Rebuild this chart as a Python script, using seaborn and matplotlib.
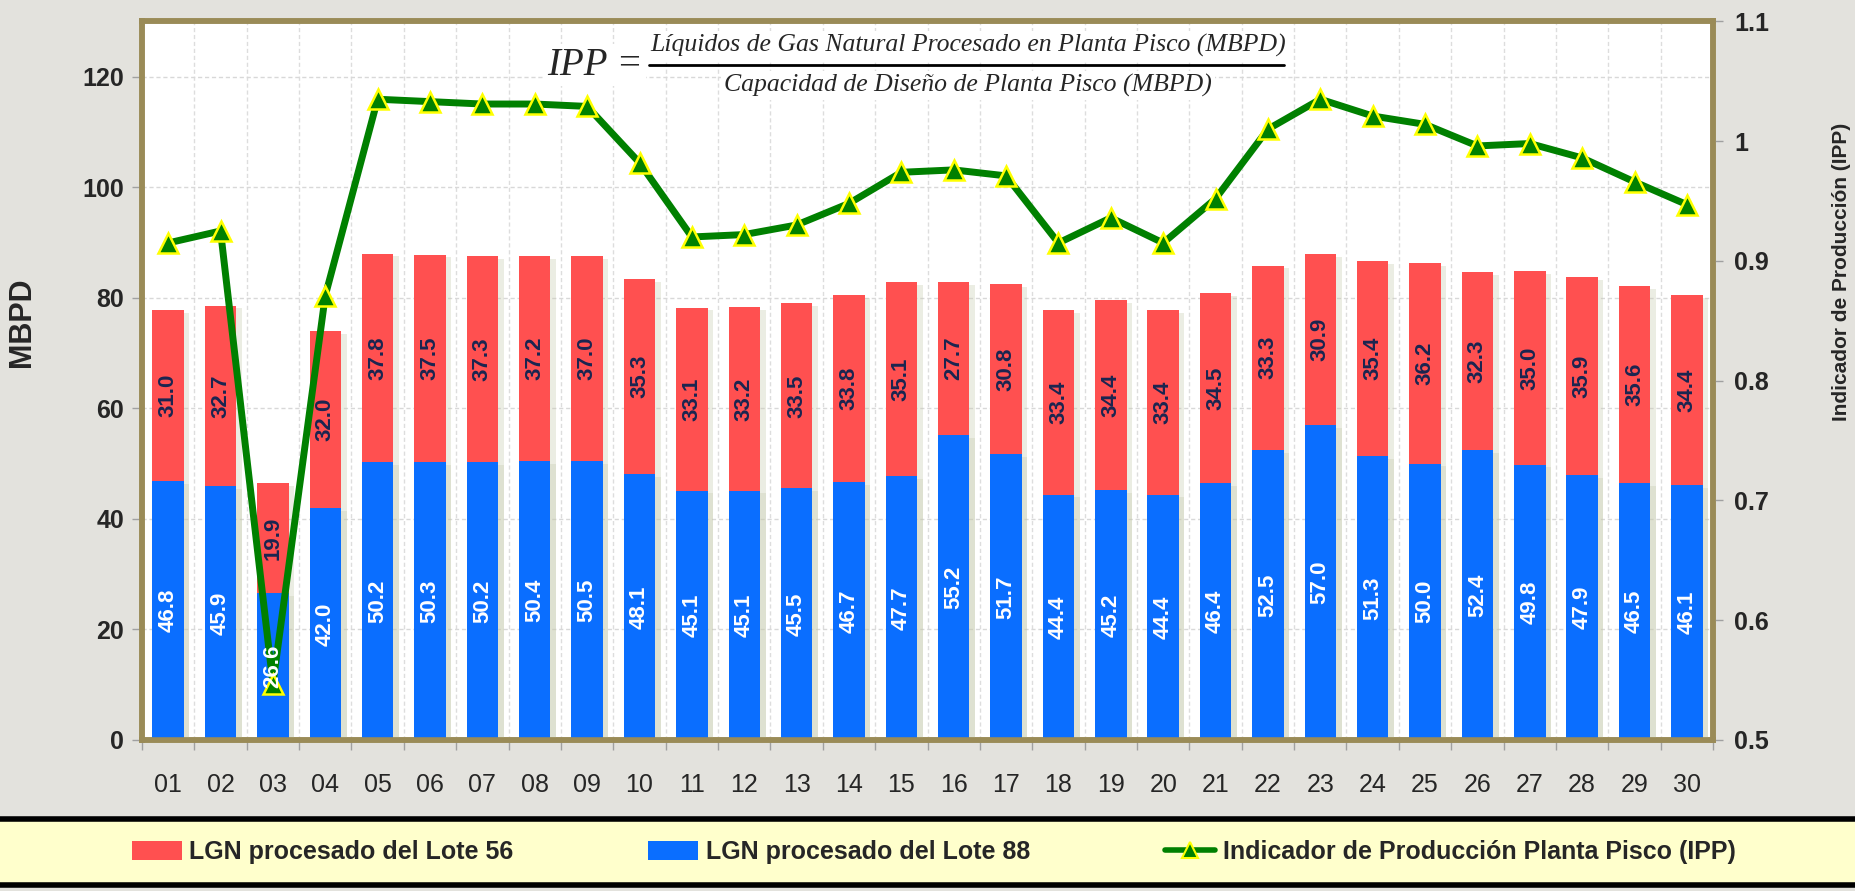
import numpy as np
import pandas as pd
import matplotlib
matplotlib.use("Agg")
import matplotlib.pyplot as plt
import matplotlib.patheffects as pe
from matplotlib.patches import Patch, Rectangle
from matplotlib.lines import Line2D
from matplotlib.ticker import FixedLocator, FuncFormatter
import seaborn as sns

# ---------------- data ----------------
days = ["01", "02", "03", "04", "05", "06", "07", "08", "09", "10",
        "11", "12", "13", "14", "15", "16", "17", "18", "19", "20",
        "21", "22", "23", "24", "25", "26", "27", "28", "29", "30"]
lote88 = [46.8, 45.9, 26.6, 42.0, 50.2, 50.3, 50.2, 50.4, 50.5, 48.1,
          45.1, 45.1, 45.5, 46.7, 47.7, 55.2, 51.7, 44.4, 45.2, 44.4,
          46.4, 52.5, 57.0, 51.3, 50.0, 52.4, 49.8, 47.9, 46.5, 46.1]
lote56 = [31.0, 32.7, 19.9, 32.0, 37.8, 37.5, 37.3, 37.2, 37.0, 35.3,
          33.1, 33.2, 33.5, 33.8, 35.1, 27.7, 30.8, 33.4, 34.4, 33.4,
          34.5, 33.3, 30.9, 35.4, 36.2, 32.3, 35.0, 35.9, 35.6, 34.4]
ipp = [0.915, 0.925, 0.547, 0.871, 1.035, 1.033, 1.031, 1.031, 1.029, 0.982,
       0.920, 0.922, 0.930, 0.948, 0.974, 0.976, 0.971, 0.915, 0.936, 0.915,
       0.952, 1.010, 1.035, 1.021, 1.014, 0.996, 0.998, 0.986, 0.966, 0.947]
left_ticks = [0, 20, 40, 60, 80, 100, 120]
right_ticks = [0.5, 0.6, 0.7, 0.8, 0.9, 1.0, 1.1]

name56 = "LGN procesado del Lote 56"
name88 = "LGN procesado del Lote 88"
name_ipp = "Indicador de Producción Planta Pisco (IPP)"

df = pd.DataFrame({"dia": days, "l88": lote88, "l56": lote56, "ipp": ipp})
df["total"] = df["l88"] + df["l56"]

# ---------------- style ----------------
sns.set_theme(style="white")
plt.rcParams["font.family"] = ["Liberation Sans", "DejaVu Sans"]

RED = "#FF5050"
BLUE = "#0A6EFF"
GREEN = "#008000"
BORDER = "#9A8B57"
BG = "#E3E2DD"

fig = plt.figure(figsize=(18.56, 8.91), dpi=100, facecolor=BG)
ax = fig.add_axes([0.0765, 0.1695, 0.8465, 0.8065])
ax.set_facecolor("white")

shadow = [pe.SimplePatchShadow(offset=(4, -2), shadow_rgbFace="#C8CCB0", alpha=0.35), pe.Normal()]

sns.barplot(data=df, x="dia", y="total", color=RED, saturation=1, width=0.6,
            ax=ax, zorder=3, linewidth=0)
sns.barplot(data=df, x="dia", y="l88", color=BLUE, saturation=1, width=0.6,
            ax=ax, zorder=4, linewidth=0)
for p in ax.patches:
    p.set_path_effects(shadow)

ax.set_xlim(-0.5, len(days) - 0.5)
ax.set_ylim(0, 130)
ax.yaxis.set_major_locator(FixedLocator(left_ticks))
ax.set_xlabel("")
ax.set_ylabel("MBPD", fontsize=22, fontweight="bold")
ax.yaxis.set_label_coords(-0.0668, 0.581)

# ticks & grid
ax.tick_params(axis="x", which="major", length=0, labelsize=18, pad=24)
ax.set_xticks(np.arange(-0.5, len(days), 1.0), minor=True)
ax.tick_params(axis="x", which="minor", length=7, color="#A0A0A0", width=1, bottom=True)
ax.tick_params(axis="y", length=7, color="#A0A0A0", width=1, labelsize=18, left=True, pad=6)
for lbl in ax.get_yticklabels():
    lbl.set_fontweight("bold")
ax.grid(axis="y", which="major", color="#D8D8D8", linestyle=(0, (3, 2)), linewidth=1, zorder=0)
ax.grid(axis="x", which="minor", color="#DDDDDD", linestyle=(0, (3, 2)), linewidth=1, zorder=0)
ax.set_axisbelow(True)
for s in ax.spines.values():
    s.set_color(BORDER)
    s.set_linewidth(4)

# secondary axis
ax2 = ax.twinx()
ax2.patch.set_visible(False)
xpos = np.arange(len(days))
sns.lineplot(x=xpos, y=df["ipp"], ax=ax2, color=GREEN, linewidth=5, sort=False,
             marker="^", markersize=14, markerfacecolor=GREEN, markeredgecolor="#FFFF00",
             markeredgewidth=1.8, zorder=5)
ax2.set_ylim(0.5, 1.1)
ax2.yaxis.set_major_locator(FixedLocator(right_ticks))
ax2.yaxis.set_major_formatter(FuncFormatter(lambda v, p: f"{v:g}"))
ax2.tick_params(axis="y", length=7, color="#A0A0A0", width=1, labelsize=18, right=True, pad=8)
for lbl in ax2.get_yticklabels():
    lbl.set_fontweight("bold")
ax2.set_ylabel("Indicador de Producción (IPP)", fontsize=15, fontweight="bold")
ax2.yaxis.set_label_coords(1.0757, 0.651)
ax2.set_xlabel("")
for s in ax2.spines.values():
    s.set_color(BORDER)
    s.set_linewidth(4)
ax2.set_xlim(-0.5, len(days) - 0.5)

# data labels
for i, (b, r) in enumerate(zip(lote88, lote56)):
    ax2.text(i, b / 2, f"{b:.1f}", transform=ax.transData, rotation=90,
             ha="center", va="center", color="white", fontsize=16, fontweight="bold", zorder=7)
    ax2.text(i, b + r / 2, f"{r:.1f}", transform=ax.transData, rotation=90,
             ha="center", va="center", color="#1A2550", fontsize=16, fontweight="bold", zorder=7)

# formula
fbox = dict(facecolor="white", edgecolor="none", pad=2)
serif = ["Liberation Serif", "DejaVu Serif"]
ax2.text(0.3207, 0.927, "IPP =", transform=fig.transFigure, ha="center", va="center",
         fontsize=28, style="italic", family=serif, zorder=8, bbox=fbox)
ax2.text(0.5215, 0.949, "Líquidos de Gas Natural Procesado en Planta Pisco (MBPD)",
         transform=fig.transFigure, ha="center", va="center", fontsize=18.5,
         style="italic", family=serif, zorder=8, bbox=fbox)
ax2.text(0.5215, 0.904, "Capacidad de Diseño de Planta Pisco (MBPD)",
         transform=fig.transFigure, ha="center", va="center", fontsize=18.5,
         style="italic", family=serif, zorder=8, bbox=fbox)
fig.add_artist(Line2D([0.3495, 0.692], [0.927, 0.927], color="black", linewidth=2,
                      transform=fig.transFigure, zorder=9))

# legend band
fig.add_artist(Rectangle((-0.01, 0.0067), 1.02, 0.0745, transform=fig.transFigure,
                         facecolor="#FFFFCC", edgecolor="black", linewidth=4, zorder=1))
handles = [Patch(facecolor=RED, edgecolor="none"),
           Patch(facecolor=BLUE, edgecolor="none"),
           Line2D([0], [0], color=GREEN, linewidth=4, marker="^", markersize=11,
                  markerfacecolor=GREEN, markeredgecolor="#FFFF00", markeredgewidth=1.5)]
leg = fig.legend(handles, [name56, name88, name_ipp], loc="center",
                 bbox_to_anchor=(0.503, 0.0438), ncol=3,
                 frameon=False, borderaxespad=0, columnspacing=5.4,
                 handlelength=2.0, handleheight=0.8, handletextpad=0.3,
                 prop={"weight": "bold", "size": 18})
leg.set_zorder(2)

fig.savefig("out.png", dpi=100, facecolor=BG)
